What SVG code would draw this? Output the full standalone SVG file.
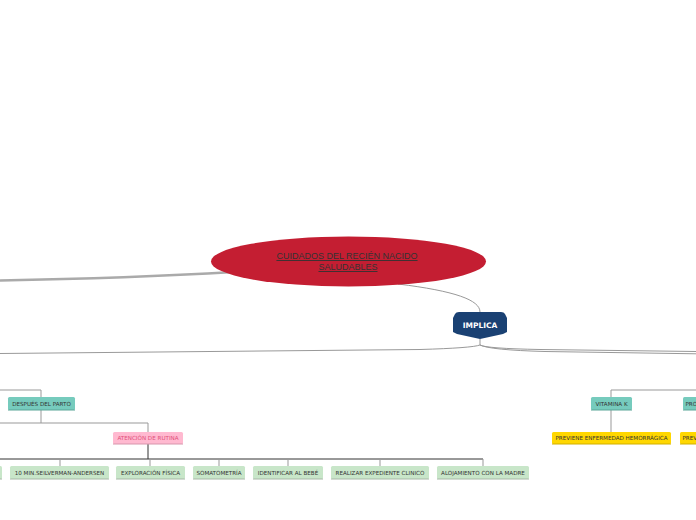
<svg xmlns="http://www.w3.org/2000/svg" width="696" height="520" viewBox="0 0 696 520">
<style>
.t{font-family:"DejaVu Sans",Verdana,sans-serif;font-size:5.6px;text-anchor:middle;fill:#333}
.sh{fill:#a5b8a6}
.ln{fill:none;stroke:#999;stroke-width:1}
.dk{fill:none;stroke:#333;stroke-width:1}
</style>
<rect width="696" height="520" fill="#fff"/>
<g id="connectors">
  <path d="M0 280.5 Q130 278 234 272" fill="none" stroke="#aaa" stroke-width="2.6"/>
  <path d="M398 284 C455 291 480 300 480 312" class="ln" stroke="#aaa"/>
  <path d="M480 339 L480 345 Q472 348 420 349.5 L0 353.5" class="ln"/>
  <path d="M480 345 Q486 348.5 540 349.5 L696 351.5" class="ln"/>
  <path d="M480 345 Q490 350 545 351.5 L696 353.8" class="ln" stroke="#bbb"/>
  <path d="M0 390 H41 V397" class="ln"/>
  <path d="M41 410 V423 M0 423 H148 V432" class="ln"/>
  <path d="M148 444 V459 M0 459 H483" class="dk"/>
  <path d="M60 459 V466 M150 459 V466 M219 459 V466 M288 459 V466 M380 459 V466 M483 459 V466" class="ln"/>
  <path d="M611 397 V390 H696" class="ln"/>
  <path d="M611 410 V432" class="ln"/>
</g>
<g id="root">
  <ellipse cx="348.5" cy="261.5" rx="137.5" ry="25" fill="#c41e32"/>
  <text x="347" y="259" font-family="Liberation Sans,Arial,sans-serif" font-size="9" text-anchor="middle" fill="#333" text-decoration="underline">CUIDADOS DEL RECIÉN NACIDO</text>
  <text x="348" y="270" font-family="Liberation Sans,Arial,sans-serif" font-size="9" text-anchor="middle" fill="#333" text-decoration="underline">SALUDABLES</text>
</g>
<g id="implica">
  <path d="M459 312 H501 Q504 312 505 314 L507 318 V332 L503 334 L480 339 L457 334 L453 332 V318 L455 314 Q456 312 459 312 Z" fill="#1a4173"/>
  <text x="480" y="328" font-family="DejaVu Sans,Verdana,sans-serif" font-size="7.5" font-weight="bold" text-anchor="middle" fill="#fff">IMPLICA</text>
</g>
<g id="despues">
  <rect x="8" y="397" width="67" height="13" rx="1.5" fill="#76cbbd"/>
  <rect x="8" y="409.5" width="67" height="1" fill="#5aa597"/>
  <text class="t" x="41.5" y="405.8">DESPUÉS DEL PARTO</text>
</g>
<g id="atencion">
  <rect x="113" y="432" width="70" height="12" rx="1.5" fill="#ffb9d0"/>
  <rect x="113" y="443.5" width="70" height="1" fill="#d796ab"/>
  <text class="t" x="148" y="440" style="fill:#e2507a">ATENCIÓN DE RUTINA</text>
</g>
<g id="cut-left">
  <rect x="-10" y="466" width="12" height="13" rx="1.5" fill="#c8e6c9"/>
  <rect x="-10" y="478.5" width="12" height="1" class="sh"/>
</g>
<g id="silverman">
  <rect x="10" y="466" width="99" height="13" rx="1.5" fill="#c8e6c9"/>
  <rect x="10" y="478.5" width="99" height="1" class="sh"/>
  <text class="t" x="59.5" y="474.8">10 MIN.SEILVERMAN-ANDERSEN</text>
</g>
<g id="exploracion">
  <rect x="116" y="466" width="69" height="13" rx="1.5" fill="#c8e6c9"/>
  <rect x="116" y="478.5" width="69" height="1" class="sh"/>
  <text class="t" x="150.5" y="474.8">EXPLORACIÓN FÍSICA</text>
</g>
<g id="somatometria">
  <rect x="193" y="466" width="52" height="13" rx="1.5" fill="#c8e6c9"/>
  <rect x="193" y="478.5" width="52" height="1" class="sh"/>
  <text class="t" x="219" y="474.8">SOMATOMETRÍA</text>
</g>
<g id="identificar">
  <rect x="253" y="466" width="70" height="13" rx="1.5" fill="#c8e6c9"/>
  <rect x="253" y="478.5" width="70" height="1" class="sh"/>
  <text class="t" x="288" y="474.8">IDENTIFICAR AL BEBÉ</text>
</g>
<g id="expediente">
  <rect x="331" y="466" width="98" height="13" rx="1.5" fill="#c8e6c9"/>
  <rect x="331" y="478.5" width="98" height="1" class="sh"/>
  <text class="t" x="380" y="474.8">REALIZAR EXPEDIENTE CLINICO</text>
</g>
<g id="alojamiento">
  <rect x="437" y="466" width="92" height="13" rx="1.5" fill="#c8e6c9"/>
  <rect x="437" y="478.5" width="92" height="1" class="sh"/>
  <text class="t" x="483" y="474.8">ALOJAMIENTO CON LA MADRE</text>
</g>
<g id="vitamina">
  <rect x="591" y="397" width="41" height="13" rx="1.5" fill="#76cbbd"/>
  <rect x="591" y="409.5" width="41" height="1" fill="#5aa597"/>
  <text class="t" x="611.5" y="405.8">VITAMINA K</text>
</g>
<g id="pro">
  <rect x="683" y="397" width="30" height="13" rx="1.5" fill="#76cbbd"/>
  <rect x="683" y="409.5" width="30" height="1" fill="#5aa597"/>
  <text class="t" x="685.5" y="405.8" style="text-anchor:start">PRO</text>
</g>
<g id="hemorragica">
  <rect x="552" y="432" width="119" height="12" rx="1.5" fill="#ffd700"/>
  <rect x="552" y="443.5" width="119" height="1" fill="#d1b000"/>
  <text class="t" x="611.5" y="440">PREVIENE ENFERMEDAD HEMORRÁGICA</text>
</g>
<g id="prev2">
  <rect x="680" y="432" width="30" height="12" rx="1.5" fill="#ffd700"/>
  <rect x="680" y="443.5" width="30" height="1" fill="#d1b000"/>
  <text class="t" x="682.5" y="440" style="text-anchor:start">PREV</text>
</g>
</svg>
